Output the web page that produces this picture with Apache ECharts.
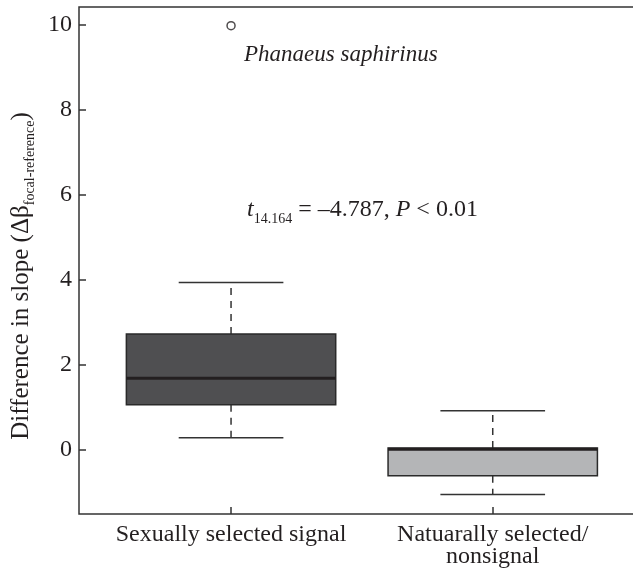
<!DOCTYPE html>
<html>
<head>
<meta charset="utf-8">
<script src="https://cdn.jsdelivr.net/npm/echarts@6/dist/echarts.min.js"></script>
<style>
  html, body { margin: 0; padding: 0; background: #fff; }
  #chart { width: 633px; height: 572px; }
</style>
</head>
<body>
<div id="chart"></div>
<script>
  // data
  const categories = ['Sexually selected signal', 'Natuarally selected/\nnonsignal']
  const positions = [1, 2]
  const lowerWhisker = [0.29, -1.04]
  const q1 = [1.07, -0.6]
  const median = [1.69, 0.02]
  const q3 = [2.73, 0.05]
  const upperWhisker = [3.94, 0.93]
  const outliers = [[1, 9.98]]
  const yTicks = [0, 2, 4, 6, 8, 10]

  const boxColors = ['#4f4f51', '#b4b5b7']
  const ink = '#231f20'
  const font = 'Liberation Serif'
  const BOX_W = 0.8
  const CAP_W = 0.4

  const boxData = positions.map((p, i) => [p, lowerWhisker[i], q1[i], median[i], q3[i], upperWhisker[i]])

  const chart = echarts.init(document.getElementById('chart'))

  // one box with dashed whiskers and solid caps
  const renderBox = (params, api) => {
    const x = api.value(0)
    const i = params.dataIndex
    const half = api.size([BOX_W, 0])[0] / 2
    const capHalf = api.size([CAP_W, 0])[0] / 2
    const low = api.coord([x, api.value(1)])
    const b1 = api.coord([x, api.value(2)])
    const med = api.coord([x, api.value(3)])
    const b3 = api.coord([x, api.value(4)])
    const high = api.coord([x, api.value(5)])
    const cx = b1[0]
    const dash = { stroke: '#333', lineWidth: 1.5, lineDash: [7, 6] }
    const solid = { stroke: '#333', lineWidth: 1.5 }
    return {
      type: 'group',
      children: [
        { type: 'line', shape: { x1: cx, y1: b3[1], x2: cx, y2: high[1] }, style: dash },
        { type: 'line', shape: { x1: cx, y1: b1[1], x2: cx, y2: low[1] }, style: dash },
        { type: 'line', shape: { x1: cx - capHalf, y1: high[1], x2: cx + capHalf, y2: high[1] }, style: solid },
        { type: 'line', shape: { x1: cx - capHalf, y1: low[1], x2: cx + capHalf, y2: low[1] }, style: solid },
        {
          type: 'rect',
          shape: { x: cx - half, y: b3[1], width: half * 2, height: b1[1] - b3[1] },
          style: { fill: boxColors[i], stroke: '#2a2a2a', lineWidth: 1.5 }
        },
        { type: 'line', shape: { x1: cx - half, y1: med[1], x2: cx + half, y2: med[1] }, style: { stroke: ink, lineWidth: 3 } }
      ]
    }
  }

  const option = {
    animation: false,
    grid: {
      left: 79, right: -6, top: 7, bottom: 58,
      outerBoundsMode: 'none',
      show: true, borderColor: '#333', borderWidth: 1.5
    },
    xAxis: {
      type: 'value',
      min: 0.419,
      max: 2.5589,
      splitLine: { show: false },
      axisLine: { show: false, onZero: false },
      axisTick: { show: true, inside: true, length: 7, customValues: positions, lineStyle: { color: '#333', width: 1.5 } },
      axisLabel: {
        customValues: positions,
        formatter: (v) => categories[positions.indexOf(v)] || '',
        fontFamily: font,
        fontSize: 24,
        lineHeight: 22,
        color: ink,
        margin: 10
      }
    },
    yAxis: {
      type: 'value',
      min: -1.5,
      max: 10.42,
      splitLine: { show: false },
      axisLine: { show: false, onZero: false },
      axisTick: { show: true, inside: true, length: 7, customValues: yTicks, lineStyle: { color: '#333', width: 1.5 } },
      axisLabel: {
        customValues: yTicks,
        fontFamily: font,
        fontSize: 24,
        color: ink,
        margin: 7
      }
    },
    series: [
      {
        type: 'custom',
        renderItem: renderBox,
        encode: { x: 0, y: [1, 2, 3, 4, 5] },
        data: boxData
      },
      {
        type: 'scatter',
        symbol: 'circle',
        symbolSize: 8,
        itemStyle: { color: '#fff', borderColor: ink, borderWidth: 1.5 },
        data: outliers
      }
    ],
    graphic: [
      {
        type: 'text',
        x: 21,
        y: 276,
        rotation: Math.PI / 2,
        style: {
          text: '{a|Difference in slope (Δβ}{s|focal-reference}{a|)}',
          align: 'center',
          verticalAlign: 'middle',
          fill: ink,
          rich: {
            a: { fontFamily: font, fontSize: 25, lineHeight: 32, fill: ink },
            s: { fontFamily: font, fontSize: 14, lineHeight: 14, verticalAlign: 'bottom', fill: ink }
          }
        }
      },
      {
        type: 'text',
        x: 244,
        y: 54.5,
        style: {
          text: 'Phanaeus saphirinus',
          fontFamily: font,
          fontStyle: 'italic',
          fontSize: 23,
          fill: ink,
          verticalAlign: 'middle'
        }
      },
      {
        type: 'text',
        x: 247,
        y: 210,
        style: {
          text: '{i|t}{s|14.164}{r| = –4.787, }{i|P}{r| < 0.01}',
          verticalAlign: 'middle',
          fill: ink,
          rich: {
            i: { fontFamily: font, fontStyle: 'italic', fontSize: 24, lineHeight: 32, fill: ink },
            r: { fontFamily: font, fontSize: 24, lineHeight: 32, fill: ink },
            s: { fontFamily: font, fontSize: 14, lineHeight: 14, verticalAlign: 'bottom', fill: ink }
          }
        }
      }
    ]
  }

  chart.setOption(option)

  window.addEventListener('resize', () => chart.resize())
</script>
</body>
</html>
